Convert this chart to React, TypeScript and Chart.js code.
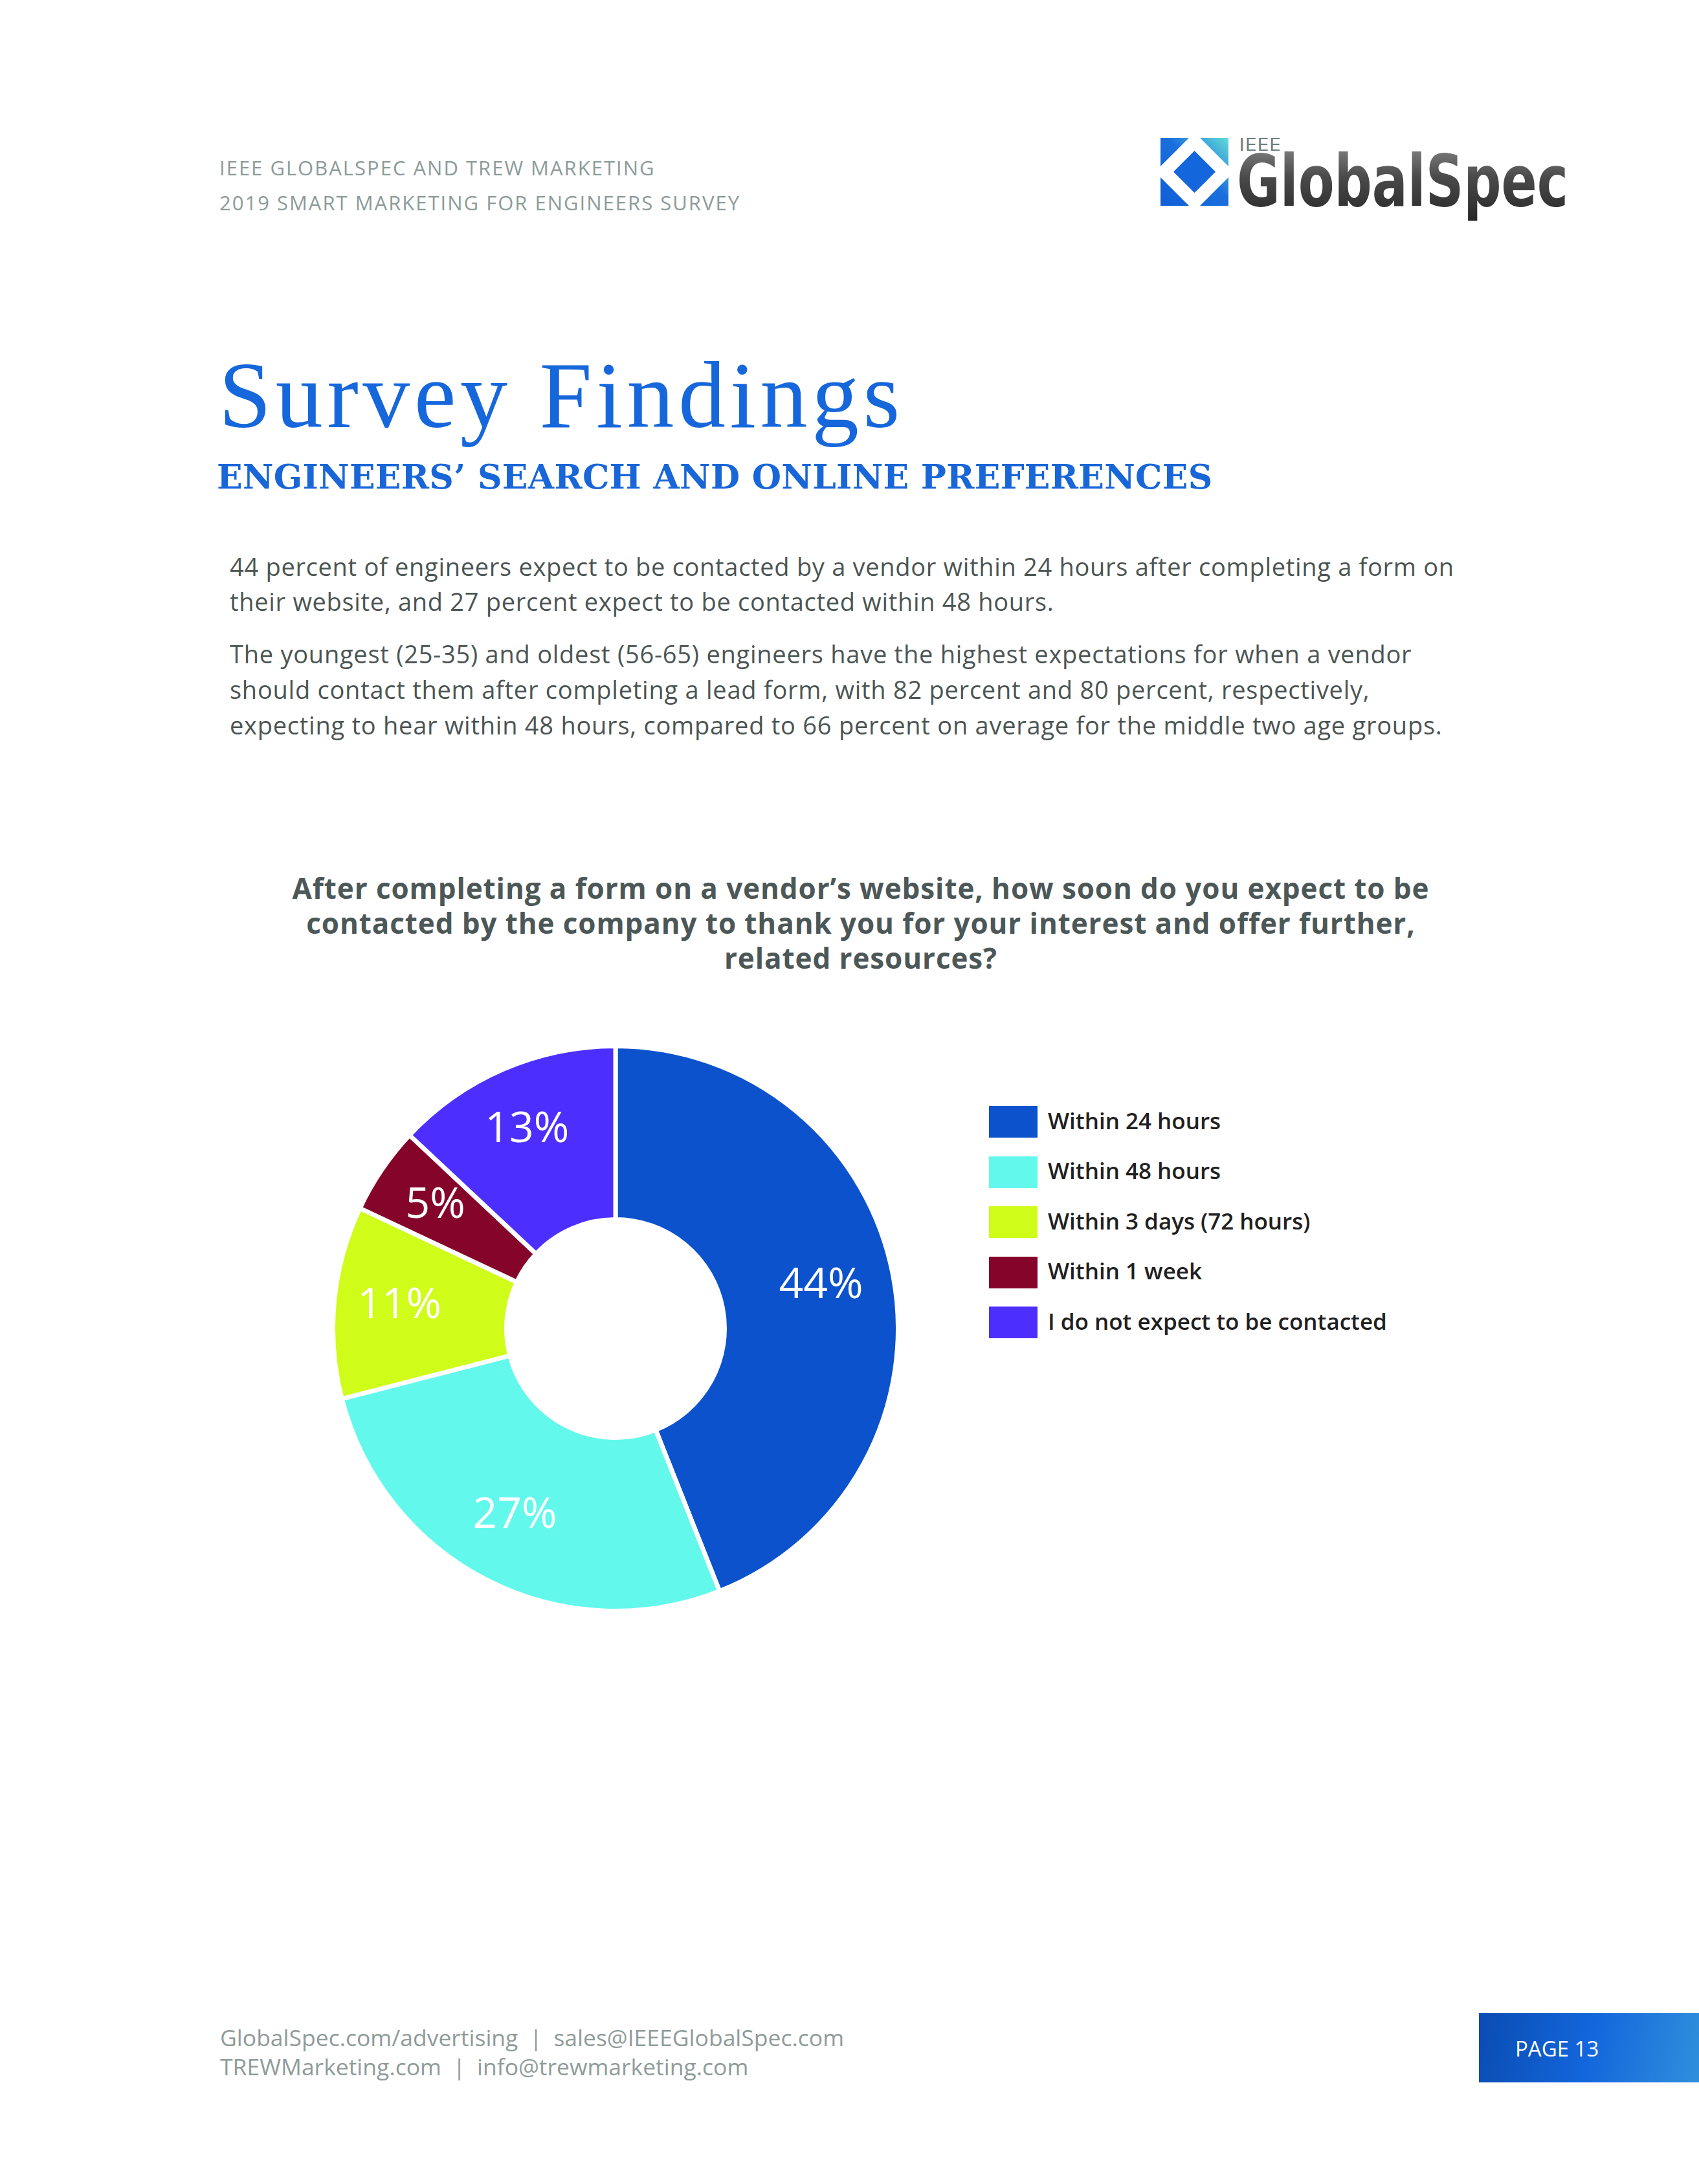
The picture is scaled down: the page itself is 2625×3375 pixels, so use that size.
import React, { useEffect, useRef } from "react";
import { Chart, registerables } from "chart.js";

Chart.register(...registerables);

// ---- data ----
const categories = [
  "Within 24 hours",
  "Within 48 hours",
  "Within 3 days (72 hours)",
  "Within 1 week",
  "I do not expect to be contacted",
];
const shares = [44, 27, 11, 5, 13];
const sliceLabels = ["44%", "27%", "11%", "5%", "13%"];
const sliceColors = ["#0b52cc", "#62f9ec", "#cffc19", "#85052a", "#4c2fff"];

const para1 = [
  "44 percent of engineers expect to be contacted by a vendor within 24 hours after completing a form on",
  "their website, and 27 percent expect to be contacted within 48 hours.",
];
const para2 = [
  "The youngest (25-35) and oldest (56-65) engineers have the highest expectations for when a vendor",
  "should contact them after completing a lead form, with 82 percent and 80 percent, respectively,",
  "expecting to hear within 48 hours, compared to 66 percent on average for the middle two age groups.",
];
const questionLines = [
  "After completing a form on a vendor\u2019s website, how soon do you expect to be",
  "contacted by the company to thank you for your interest and offer further,",
  "related resources?",
];
const subtitle = "ENGINEERS\u2019 SEARCH AND ONLINE PREFERENCES";

const SANS = "'Open Sans', 'Noto Sans', sans-serif";

const labelPlugin = {
  id: "sliceLabels",
  afterDatasetsDraw(chart: any) {
    const ctx = chart.ctx;
    const meta = chart.getDatasetMeta(0);
    const size = 66;
    ctx.save();
    ctx.fillStyle = "#ffffff";
    ctx.font = `500 ${size}px ${SANS}`;
    ctx.textAlign = "center";
    ctx.textBaseline = "alphabetic";
    meta.data.forEach((arc: any, i: number) => {
      const p = arc.getProps(["x", "y", "startAngle", "endAngle", "innerRadius", "outerRadius"], true);
      const mid = (p.startAngle + p.endAngle) / 2;
      const r = p.innerRadius + 0.6 * (p.outerRadius - p.innerRadius);
      const x = p.x + Math.cos(mid) * r - 6;
      const y = p.y + Math.sin(mid) * r - 9;
      ctx.fillText(sliceLabels[i], x, y + size * 0.357);
    });
    ctx.restore();
  },
};

function Donut() {
  const ref = useRef<HTMLCanvasElement | null>(null);
  useEffect(() => {
    if (!ref.current) return;
    const chart = new Chart(ref.current, {
      type: "doughnut",
      data: {
        labels: categories,
        datasets: [
          {
            data: shares,
            backgroundColor: sliceColors,
            borderColor: "#ffffff",
            borderWidth: 7,
            hoverBorderWidth: 7,
            hoverOffset: 0,
          },
        ],
      },
      options: {
        responsive: false,
        animation: false,
        devicePixelRatio: 1,
        cutout: "38.6%",
        layout: { padding: 0 },
        plugins: {
          legend: { display: false },
          tooltip: { enabled: false },
        },
        events: [],
      },
      plugins: [labelPlugin],
    });
    return () => chart.destroy();
  }, []);
  return (
    <canvas
      ref={ref}
      width={880}
      height={880}
      style={{ position: "absolute", left: 511, top: 1613, width: 880, height: 880 }}
    />
  );
}

function Logo() {
  // svg origin at page (1770, 165)
  return (
    <svg
      width={700}
      height={240}
      viewBox="0 0 700 240"
      style={{ position: "absolute", left: 1770, top: 165, overflow: "visible" }}
    >
      <defs>
        <linearGradient id="lg" x1="0" y1="1" x2="1" y2="0">
          <stop offset="0" stopColor="#0f5ed8" />
          <stop offset="0.55" stopColor="#1a6fdc" />
          <stop offset="1" stopColor="#62dcd8" />
        </linearGradient>
        <linearGradient id="tg" x1="0" y1="0" x2="0" y2="1">
          <stop offset="0" stopColor="#8c8c8c" />
          <stop offset="0.45" stopColor="#4a4a4a" />
          <stop offset="1" stopColor="#262626" />
        </linearGradient>
        <clipPath id="sq">
          <rect x="23" y="48" width="105" height="105" />
        </clipPath>
      </defs>
      <rect x="23" y="48" width="105" height="105" fill="url(#lg)" />
      <g clipPath="url(#sq)">
        <polygon points="75.5,39.5 136.5,100.5 75.5,161.5 14.5,100.5" fill="#ffffff" />
        <polygon points="75.5,68 108,100.5 75.5,133 43,100.5" fill="#1466dc" />
      </g>
      <text
        x={144}
        y={68}
        fontFamily={SANS}
        fontSize={28}
        fill="#6e7c7c"
        textLength={65}
        lengthAdjust="spacingAndGlyphs"
      >
        IEEE
      </text>
      <text
        x={141}
        y={153}
        fontFamily="'DejaVu Sans Condensed', 'DejaVu Sans', sans-serif"
        fontWeight={700}
        fontSize={110}
        fill="url(#tg)"
        textLength={512}
        lengthAdjust="spacingAndGlyphs"
      >
        GlobalSpec
      </text>
    </svg>
  );
}

function Legend() {
  return (
    <>
      {categories.map((c, i) => (
        <div
          key={c}
          style={{
            position: "absolute",
            left: 1528,
            top: 1709 + i * 77.5,
            height: 49,
            display: "flex",
            alignItems: "center",
            whiteSpace: "nowrap",
          }}
        >
          <div style={{ width: 75, height: 49, background: sliceColors[i] }} />
          <div
            style={{
              marginLeft: 16,
              fontFamily: SANS,
              fontWeight: 600,
              fontSize: 35,
              lineHeight: "49px",
              color: "#1f2121",
              marginTop: -5,
            }}
          >
            {c}
          </div>
        </div>
      ))}
    </>
  );
}

export default function App() {
  const abs = (o: React.CSSProperties): React.CSSProperties => ({
    position: "absolute",
    whiteSpace: "nowrap",
    margin: 0,
    ...o,
  });
  return (
    <div
      style={{
        position: "absolute",
        left: 0,
        top: 0,
        width: 2625,
        height: 3375,
        background: "#ffffff",
        overflow: "hidden",
      }}
    >
      <div
        style={abs({
          left: 339,
          top: 232,
          fontFamily: SANS,
          fontSize: 31,
          lineHeight: "54px",
          letterSpacing: 2.0,
          color: "#8c9b99",
        })}
      >
        <div>IEEE GLOBALSPEC AND TREW MARKETING</div>
        <div>2019 SMART MARKETING FOR ENGINEERS SURVEY</div>
      </div>

      <Logo />

      <div
        style={abs({
          left: 338,
          top: 538,
          fontFamily: "'Liberation Serif', serif",
          fontSize: 146,
          lineHeight: "146px",
          letterSpacing: 6.5,
          color: "#1767dc",
        })}
      >
        Survey Findings
      </div>
      <div
        style={abs({
          left: 335,
          top: 711,
          fontFamily: "'DejaVu Serif', serif",
          fontWeight: 700,
          fontSize: 52,
          lineHeight: "52px",
          letterSpacing: 0.3,
          color: "#1866d8",
        })}
      >
        {subtitle}
      </div>

      <div
        style={abs({
          left: 355,
          top: 848,
          fontFamily: SANS,
          fontSize: 38,
          lineHeight: "54px",
          letterSpacing: 0.7,
          color: "#4b5553",
        })}
      >
        {para1.map((l, i) => (
          <div key={i}>{l}</div>
        ))}
      </div>
      <div
        style={abs({
          left: 355,
          top: 983,
          fontFamily: SANS,
          fontSize: 38,
          lineHeight: "55px",
          letterSpacing: 0.75,
          color: "#4b5553",
        })}
      >
        {para2.map((l, i) => (
          <div key={i}>{l}</div>
        ))}
      </div>

      <div
        style={abs({
          left: 330,
          width: 2000,
          top: 1345,
          textAlign: "center",
          fontFamily: SANS,
          fontWeight: 700,
          fontSize: 44,
          lineHeight: "54px",
          letterSpacing: 0.9,
          color: "#4c5757",
        })}
      >
        {questionLines.map((l, i) => (
          <div key={i}>{l}</div>
        ))}
      </div>

      <Donut />
      <Legend />

      <div
        style={abs({
          left: 340,
          top: 3126,
          fontFamily: SANS,
          fontSize: 35.5,
          lineHeight: "45px",
          color: "#8f9c9a",
        })}
      >
        <div>GlobalSpec.com/advertising{"\u2002|\u2002"}sales@IEEEGlobalSpec.com</div>
        <div>TREWMarketing.com{"\u2002|\u2002"}info@trewmarketing.com</div>
      </div>

      <div
        style={{
          position: "absolute",
          left: 2285,
          top: 3111,
          width: 340,
          height: 107,
          background: "linear-gradient(100deg, #0a4cb2 0%, #1366dc 50%, #2f8fdc 100%)",
          display: "flex",
          alignItems: "center",
        }}
      >
        <div
          style={{
            marginLeft: 56,
            marginTop: 2,
            fontFamily: SANS,
            fontSize: 33,
            color: "#ffffff",
            whiteSpace: "nowrap",
          }}
        >
          PAGE 13
        </div>
      </div>
    </div>
  );
}
